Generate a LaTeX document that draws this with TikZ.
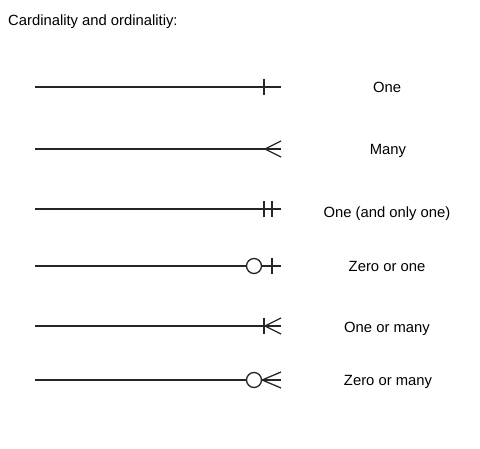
\documentclass[tikz,border=0pt]{standalone}
\usepackage{fontspec}
\setmainfont{Liberation Sans}
\usepackage{tikz}

\begin{document}
\begin{tikzpicture}[x=1pt,y=-1pt,font=\fontsize{14.8}{17}\selectfont,
  rel/.style={line width=1.3pt,black!85},
  lbl/.style={anchor=base}]
  \useasboundingbox (0,0) rectangle (480,449);
  % ── Title ──────────────────────────────────────────
  \node[anchor=base west,inner sep=0] (title) at (8,26) {Cardinality and ordinalitiy:};
  % ── Line ends ──────────────────────────────────────
  \foreach \n/\y in {1/87,2/149,3/209,4/266,5/326,6/380} {
    \coordinate (s\n) at (35,\y);
    \coordinate (e\n) at (281,\y);
  }
  % one
  \draw[rel] (s1) -- (e1);
  \draw[rel] ([xshift=-17pt,yshift=8pt]e1) -- ++(0,16);
  % many
  \draw[rel] (s2) -- (e2);
  \draw[rel] ([yshift=8pt]e2) -- ([xshift=-16pt]e2) -- ([yshift=-8pt]e2);
  % one (and only one)
  \draw[rel] (s3) -- (e3);
  \draw[rel] ([xshift=-17pt,yshift=8pt]e3) -- ++(0,16);
  \draw[rel] ([xshift=-9pt,yshift=8pt]e3) -- ++(0,16);
  % zero or one
  \node[rel,draw,circle,minimum size=15pt,inner sep=0] (c4) at ([xshift=-27pt]e4) {};
  \draw[rel] (s4) -- (c4.west);
  \draw[rel] (c4.east) -- (e4);
  \draw[rel] ([xshift=-9pt,yshift=8pt]e4) -- ++(0,16);
  % one or many
  \draw[rel] (s5) -- (e5);
  \draw[rel] ([yshift=8pt]e5) -- ([xshift=-16pt]e5) -- ([yshift=-8pt]e5);
  \draw[rel] ([xshift=-17pt,yshift=8pt]e5) -- ++(0,16);
  % zero or many
  \node[rel,draw,circle,minimum size=15pt,inner sep=0] (c6) at ([xshift=-27pt]e6) {};
  \draw[rel] (s6) -- (c6.west);
  \draw[rel] (c6.east) -- (e6);
  \draw[rel] ([yshift=8pt]e6) -- (c6.east) -- ([yshift=-8pt]e6);
  % ── Labels ─────────────────────────────────────────
  \node[lbl] (l1) at (387,93)  {One};
  \node[lbl] (l2) at (388,155) {Many};
  \node[lbl] (l3) at (387,218) {One (and only one)};
  \node[lbl] (l4) at (387,272) {Zero or one};
  \node[lbl] (l5) at (387,333) {One or many};
  \node[lbl] (l6) at (388,386) {Zero or many};
\end{tikzpicture}
\end{document}
